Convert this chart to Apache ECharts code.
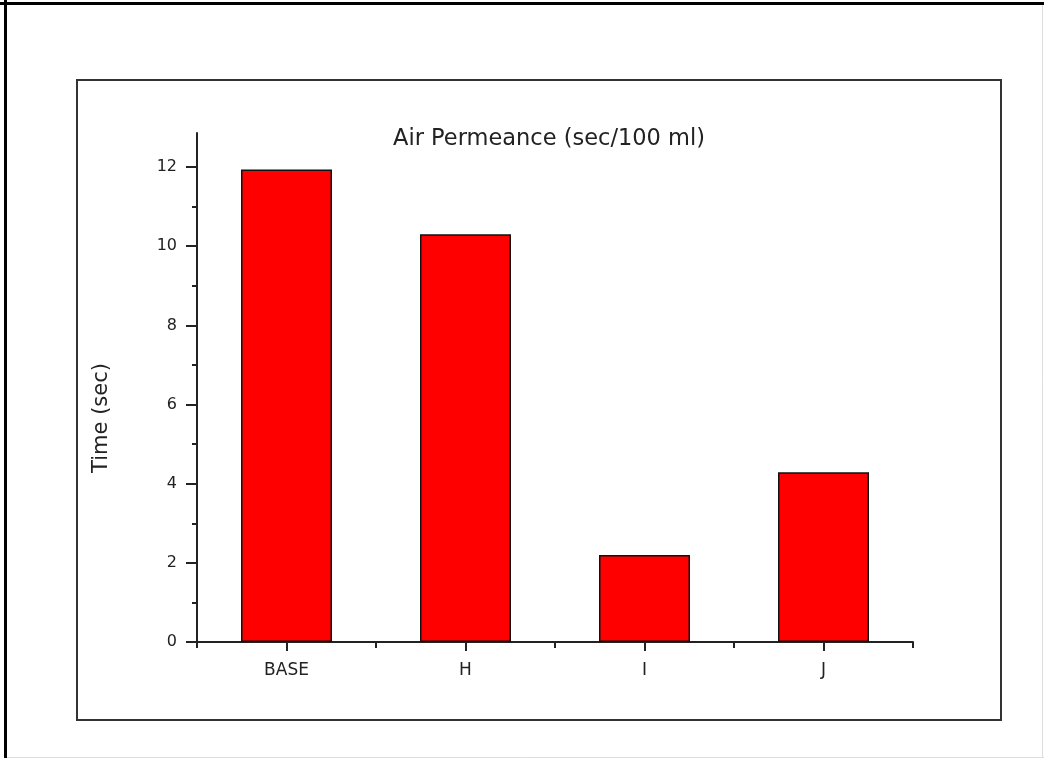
<!DOCTYPE html>
<html>
<head>
<meta charset="utf-8">
<script src="https://cdn.jsdelivr.net/npm/echarts@6/dist/echarts.min.js"></script>
<style>html,body{margin:0;padding:0;background:#fff}#c{width:1044px;height:758px}</style>
</head>
<body>
<div id="c"></div>
<script>
const categories = ['BASE', 'H', 'I', 'J'];
const values = [11.94, 10.30, 2.20, 4.29];
const majorTicks = [0, 2, 4, 6, 8, 10, 12];
const minorTicks = [1, 3, 5, 7, 9, 11];
const titleText = 'Air Permeance (sec/100 ml)';
const yName = 'Time (sec)';

const FONT = 'DejaVu Sans';
const INK = '#222';
const YMAX = 12.86;

const chart = echarts.init(document.getElementById('c'), null, {renderer: 'canvas'});
chart.setOption({
  backgroundColor: '#fff',
  animation: false,
  title: {
    text: titleText, left: 544, top: 123, textAlign: 'center',
    textStyle: {fontFamily: FONT, fontSize: 22.5, fontWeight: 'normal', color: INK}
  },
  grid: {left: 197, top: 133, right: 131, bottom: 116, containLabel: false},
  xAxis: [{
    type: 'category', data: categories, position: 'bottom', boundaryGap: true,
    axisLine: {lineStyle: {color: INK, width: 2}},
    axisTick: {show: true, alignWithLabel: true, length: 9, lineStyle: {color: INK, width: 2}},
    axisLabel: {fontFamily: FONT, fontSize: 17, color: INK, margin: 20},
    splitLine: {show: false}
  }, {
    type: 'category', data: categories, position: 'bottom', boundaryGap: true,
    axisLine: {show: false},
    axisTick: {show: true, alignWithLabel: false, length: 6, lineStyle: {color: INK, width: 2}},
    axisLabel: {show: false},
    splitLine: {show: false}
  }],
  yAxis: [{
    type: 'value', min: 0, max: YMAX, position: 'left',
    axisLine: {show: true, lineStyle: {color: INK, width: 2}},
    axisTick: {show: true, length: 11, customValues: majorTicks, lineStyle: {color: INK, width: 2}},
    axisLabel: {fontFamily: FONT, fontSize: 16, color: INK, margin: 20, customValues: majorTicks},
    splitLine: {show: false}
  }, {
    type: 'value', min: 0, max: YMAX, position: 'left',
    axisLine: {show: false},
    axisTick: {show: true, length: 5, customValues: minorTicks, lineStyle: {color: INK, width: 2}},
    axisLabel: {show: false},
    splitLine: {show: false}
  }],
  series: [{
    type: 'bar', data: values, xAxisIndex: 0, yAxisIndex: 0, barWidth: 91,
    itemStyle: {color: '#ff0000', borderColor: '#111', borderWidth: 1.5}
  }],
  graphic: [
    {type: 'rect', shape: {x: 77, y: 80, width: 924, height: 640}, style: {fill: null, stroke: '#333', lineWidth: 2}, silent: true},
    {type: 'line', shape: {x1: 5.5, y1: 0, x2: 5.5, y2: 758}, style: {stroke: '#000', lineWidth: 3}, silent: true},
    {type: 'line', shape: {x1: 0, y1: 3.5, x2: 1044, y2: 3.5}, style: {stroke: '#000', lineWidth: 3}, silent: true},
    {type: 'line', shape: {x1: 1042.5, y1: 5, x2: 1042.5, y2: 758}, style: {stroke: '#ddd', lineWidth: 1}, silent: true},
    {type: 'line', shape: {x1: 7, y1: 757.5, x2: 1044, y2: 757.5}, style: {stroke: '#ddd', lineWidth: 1}, silent: true},
    {type: 'text', x: 102, y: 418, rotation: Math.PI / 2,
     style: {text: yName, fontFamily: FONT, fontSize: 21, fill: INK, textAlign: 'center', textVerticalAlign: 'middle'}}
  ]
});
</script>
</body>
</html>
